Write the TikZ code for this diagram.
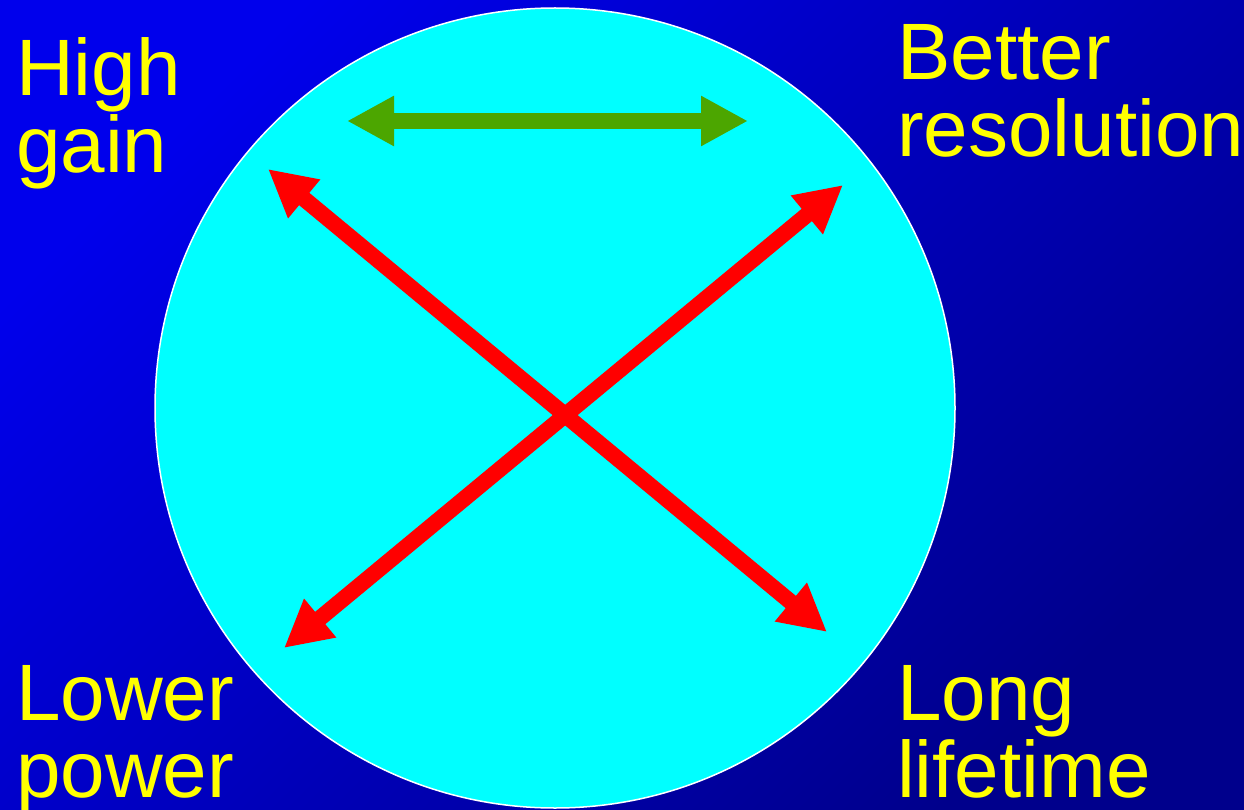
\documentclass[tikz,border=0pt]{standalone}
\usepackage{fontspec}
\setmainfont{Liberation Sans}
\usetikzlibrary{arrows.meta}
\definecolor{bgtop}{RGB}{0,0,236}
\definecolor{bgbot}{RGB}{0,0,140}
\definecolor{disc}{RGB}{0,255,255}
\definecolor{txt}{RGB}{255,255,0}
\definecolor{grn}{RGB}{76,166,0}
\definecolor{rd}{RGB}{255,0,0}
\tikzset{
  label/.style={inner sep=0pt, anchor=base west, align=left, text=txt,
    font=\fontsize{80}{77}\selectfont},
  twoway/.style={line width=16pt, {Triangle[length=47pt,width=47pt]}-{Triangle[length=47pt,width=47pt]}},
}
\begin{document}
\begin{tikzpicture}[x=1pt,y=-1pt]
\useasboundingbox (0,0) rectangle (1244,810);
\shade[top color=bgtop, bottom color=bgbot, shading angle=45] (0,0) rectangle (1244,810);
\node[circle, minimum size=800pt, inner sep=0pt, fill=disc, draw=white, line width=1.5pt] (disc) at (555,408) {};
\node[label] (high) at (16,173) {High\\gain};
\node[label] (better) at (897,157) {Better\\resolution};
\node[label] (lower) at (16,797) {Lower\\power};
\node[label] (long) at (897,797) {Long\\lifetime};
\coordinate (g1) at (347,121);
\coordinate (g2) at (748,121);
\coordinate (ul) at (268,169);
\coordinate (lr) at (827,632);
\coordinate (ll) at (284,648);
\coordinate (ur) at (843,185);
\draw[twoway, draw=grn, fill=grn] (g1) -- (g2);
\draw[twoway, draw=rd, fill=rd] (ul) -- (lr);
\draw[twoway, draw=rd, fill=rd] (ll) -- (ur);
\end{tikzpicture}
\end{document}
